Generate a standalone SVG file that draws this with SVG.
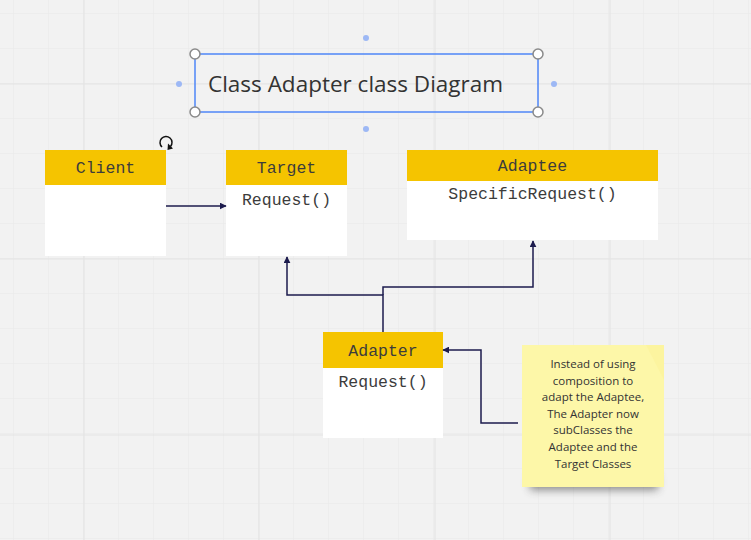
<svg xmlns="http://www.w3.org/2000/svg" width="751" height="540" viewBox="0 0 751 540">
<defs>
<pattern id="minor" width="35" height="35" patternUnits="userSpaceOnUse" x="14" y="14">
<path d="M35 0V35M0 35H35" fill="none" stroke="#e9e9e9" stroke-width="1"/>
</pattern>
<marker id="arr" viewBox="0 0 10 10" refX="9" refY="5" markerWidth="7" markerHeight="7" orient="auto" markerUnits="userSpaceOnUse">
<path d="M0 0L10 5L0 10z" fill="#1c1b4d"/>
</marker>
<filter id="sh" x="-20%" y="-20%" width="140%" height="180%">
<feGaussianBlur stdDeviation="4"/>
</filter>
<style>
.hdr{fill:#f5c400}
.body{fill:#ffffff}
.mono{font-family:"Liberation Mono","DejaVu Sans Mono",monospace;font-size:16.5px;fill:#3c3c3c;text-anchor:middle}
.conn{fill:none;stroke:#1c1b4d;stroke-width:1.5;marker-end:url(#arr)}
.note{font-family:"Open Sans","Noto Sans",sans-serif;font-size:11.5px;fill:#333333;text-anchor:middle}
.handle{fill:#ffffff;stroke:#8a8a8a;stroke-width:1.5}
.dot{fill:#9db8f5}
</style>
</defs>
<rect width="751" height="540" fill="#f2f2f2"/>
<rect width="751" height="540" fill="url(#minor)"/>
<path d="M84 0V540M259 0V540M435 0V540M610 0V540M0 84H751M0 259H751M0 435H751" stroke="#e4e4e4" stroke-width="1.2"/>

<g id="title">
<rect x="195" y="54" width="343" height="58" fill="none" stroke="#4f86f7" stroke-width="1.5"/>
<text x="208" y="92" font-family="Open Sans,'Noto Sans',sans-serif" font-size="22.5" fill="#333333">Class Adapter class Diagram</text>
<circle class="handle" cx="195" cy="54" r="5"/>
<circle class="handle" cx="538" cy="54" r="5"/>
<circle class="handle" cx="195" cy="112" r="5"/>
<circle class="handle" cx="538" cy="112" r="5"/>
<circle class="dot" cx="366" cy="38" r="3"/>
<circle class="dot" cx="366" cy="129" r="3"/>
<circle class="dot" cx="179" cy="84" r="3"/>
<circle class="dot" cx="554" cy="84" r="3"/>
</g>

<g id="rotate">
<path d="M170.5 146.5A6 6 0 1 0 162 147" fill="none" stroke="#111" stroke-width="1.5"/>
<path d="M168 143.5L173 148.5L167.5 150z" fill="#111"/>
</g>

<g id="client">
<rect class="hdr" x="45" y="150" width="121" height="35"/>
<rect class="body" x="45" y="185" width="121" height="71"/>
<text class="mono" x="105.5" y="173">Client</text>
</g>

<g id="target">
<rect class="hdr" x="226" y="150" width="121" height="35"/>
<rect class="body" x="226" y="185" width="121" height="71"/>
<text class="mono" x="286.5" y="173">Target</text>
<text class="mono" x="286.5" y="205">Request()</text>
</g>

<g id="adaptee">
<rect class="hdr" x="407" y="150" width="251" height="31"/>
<rect class="body" x="407" y="181" width="251" height="59"/>
<text class="mono" x="532.5" y="171">Adaptee</text>
<text class="mono" x="532.5" y="199">SpecificRequest()</text>
</g>

<g id="adapter">
<rect class="hdr" x="323" y="332" width="120" height="36"/>
<rect class="body" x="323" y="368" width="120" height="70"/>
<text class="mono" x="383" y="356">Adapter</text>
<text class="mono" x="383" y="387">Request()</text>
</g>

<g id="note">
<rect x="530" y="474" width="128" height="16" fill="#444" opacity="0.6" filter="url(#sh)"/>
<rect x="522" y="345" width="142" height="142" fill="#fdf7a8"/>
<path d="M646 345L664 345L664 380Z" fill="#fbf29a" opacity="0.6"/>
<text class="note" x="593" y="368">Instead of using</text>
<text class="note" x="593" y="385">composition to</text>
<text class="note" x="593" y="401">adapt the Adaptee,</text>
<text class="note" x="593" y="418">The Adapter now</text>
<text class="note" x="593" y="434">subClasses the</text>
<text class="note" x="593" y="451">Adaptee and the</text>
<text class="note" x="593" y="468">Target Classes</text>
</g>

<g id="connectors">
<path class="conn" d="M166 206H226"/>
<path class="conn" d="M383 332V295H287V257"/>
<path class="conn" d="M383 295V287H533V241"/>
<path class="conn" d="M518 423H481V350H443"/>
</g>
</svg>
